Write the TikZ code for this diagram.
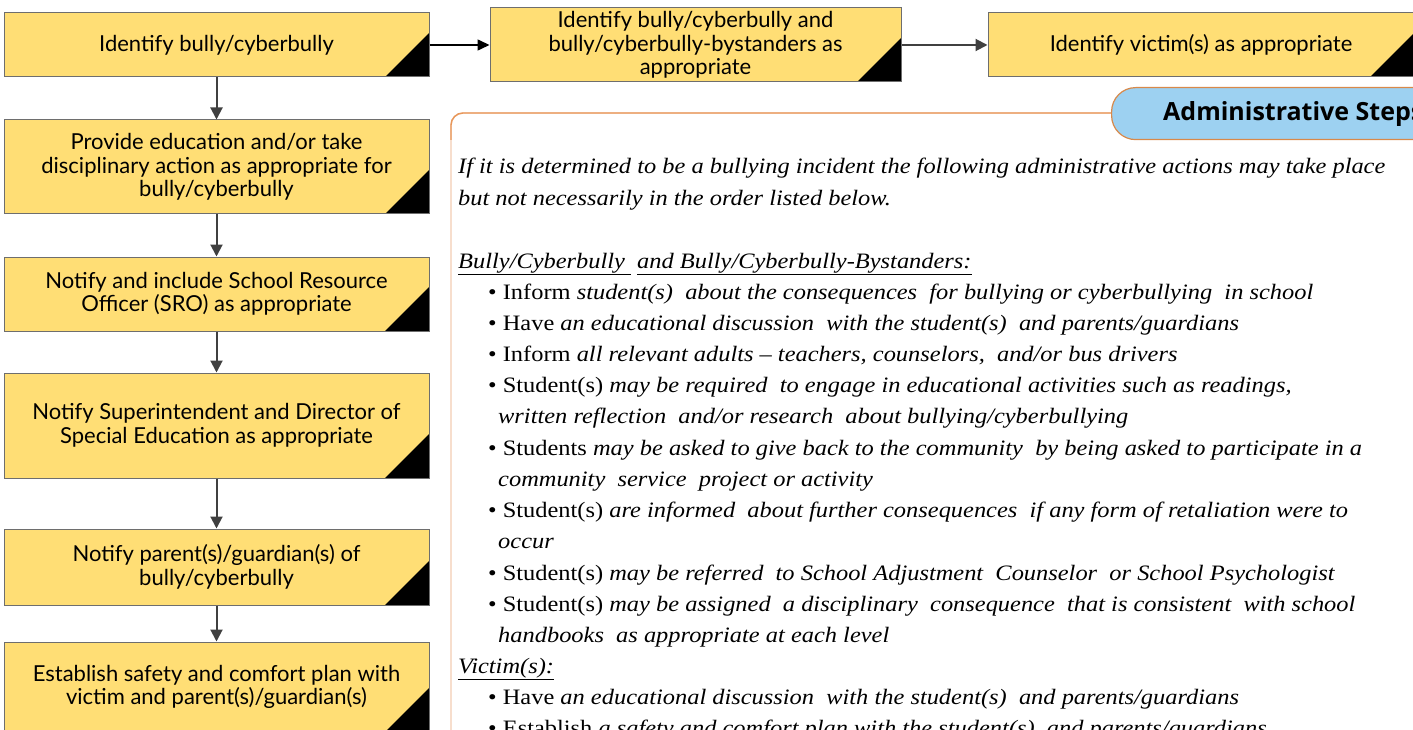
\documentclass[tikz,border=0pt]{standalone}
\usepackage{fontspec}
\setmainfont{Liberation Serif}[FakeStretch=1.11]
\newfontfamily\boxfont{Lato}
\newfontfamily\headfont{Open Sans}
\usetikzlibrary{arrows.meta}
\definecolor{boxyellow}{HTML}{FFDE75}
\definecolor{boxborder}{HTML}{6E6E6E}
\definecolor{arrowgrey}{HTML}{404040}
\definecolor{orangeline}{HTML}{E8975A}
\definecolor{peachline}{HTML}{F3CDB2}
\definecolor{pillblue}{HTML}{9DD1F1}
\definecolor{pillborder}{HTML}{D8894A}
\tikzset{
  stepbox/.style={draw=boxborder, line width=1pt, fill=boxyellow,
    font=\boxfont\fontsize{22}{23.5}\selectfont, align=center, inner sep=0pt,
    path picture={\fill[black] (path picture bounding box.south east) -- ++(-44pt,0pt) -- ++(44pt,44pt) -- cycle;}},
  arr/.style={draw=arrowgrey, line width=2pt, -{Triangle[length=12pt,width=12pt]}},
  arrblack/.style={draw=black, line width=1.6pt, -{Triangle[length=12pt,width=11pt]}},
  txt/.style={anchor=base west, inner sep=0pt, font=\fontsize{22}{26}\selectfont},
  pill/.style={draw=pillborder, line width=1.2pt, fill=pillblue, rounded corners=24pt, inner sep=0pt}
}
\begin{document}
\begin{tikzpicture}[x=1pt,y=-1pt]
\useasboundingbox (0,0) rectangle (1413,730);
\clip (0,0) rectangle (1413,730);
% admin frame
\draw[peachline, line width=1.4pt, rounded corners=12pt] (451,800) -- (451,113) -- (1460,113);
\draw[orangeline, line width=1.4pt, rounded corners=12pt] (451,140) -- (451,113) -- (1460,113);
\node[pill, anchor=north west, minimum width=360pt, minimum height=52pt] (head) at (1111,87) {};
\node[anchor=base west, inner sep=0pt, font=\headfont\bfseries\fontsize{25}{29}\selectfont] (headtxt) at (1163,121) {Administrative Steps};
% flow boxes
\node[stepbox, minimum width=425pt, minimum height=64pt] (b1) at (216.5,45) {Identify bully/cyberbully};
\node[stepbox, minimum width=425pt, minimum height=94pt] (b2) at (216.5,167) {Provide education and/or take\\disciplinary action as appropriate for\\bully/cyberbully};
\node[stepbox, minimum width=425pt, minimum height=74pt] (b3) at (216.5,294) {Notify and include School Resource\\Officer (SRO) as appropriate};
\node[stepbox, minimum width=425pt, minimum height=105pt] (b4) at (216.5,425.5) {Notify Superintendent and Director of\\Special Education as appropriate};
\node[stepbox, minimum width=425pt, minimum height=76pt] (b5) at (216.5,567) {Notify parent(s)/guardian(s) of\\bully/cyberbully};
\node[stepbox, minimum width=425pt, minimum height=90pt] (b6) at (216.5,687) {Establish safety and comfort plan with\\victim and parent(s)/guardian(s)};
\node[stepbox, minimum width=411pt, minimum height=74pt] (bB) at (695.5,45) {Identify bully/cyberbully and\\bully/cyberbully-bystanders as\\appropriate};
\node[stepbox, minimum width=426pt, minimum height=64pt] (bC) at (1201,45) {Identify victim(s) as appropriate};
% arrows
\draw[arrblack] (b1.east) -- (bB.west);
\draw[arr] (bB.east) -- (bC.west);
\draw[arr] (b1.south) -- (b2.north);
\draw[arr] (b2.south) -- (b3.north);
\draw[arr] (b3.south) -- (b4.north);
\draw[arr] (b4.south) -- (b5.north);
\draw[arr] (b5.south) -- (b6.north);
% text
\node[txt] (t1) at (458,174) {\textit{If it is determined to be a bullying incident the following administrative actions may take place}};
\node[txt] (t2) at (458,205) {\textit{but not necessarily in the order listed below.}};
\node[txt] (t3) at (458,268) {\textit{\underline{Bully/Cyberbully\ }\ \underline{and Bully/Cyberbully-Bystanders:}}};
\node[txt] (t4) at (488,299) {• Inform \textit{student(s)\ \ about the consequences\ \ for bullying or cyberbullying\ \ in school}};
\node[txt] (t5) at (488,330) {• Have \textit{an educational discussion\ \ with the student(s)\ \ and parents/guardians}};
\node[txt] (t6) at (488,361) {• Inform \textit{all relevant adults – teachers, counselors,\ \ and/or bus drivers}};
\node[txt] (t7) at (488,392) {• Student(s) \textit{may be required\ \ to engage in educational activities such as readings,}};
\node[txt] (t8) at (498,423) {\textit{written reflection\ \ and/or research\ \ about bullying/cyberbullying}};
\node[txt] (t9) at (488,455) {• Students \textit{may be asked to give back to the community\ \ by being asked to participate in a}};
\node[txt] (t10) at (498,486) {\textit{community\ \ service\ \ project or activity}};
\node[txt] (t11) at (488,517) {• Student(s) \textit{are informed\ \ about further consequences\ \ if any form of retaliation were to}};
\node[txt] (t12) at (498,548) {\textit{occur}};
\node[txt] (t13) at (488,580) {• Student(s) \textit{may be referred\ \ to School Adjustment\ \ Counselor\ \ or School Psychologist}};
\node[txt] (t14) at (488,611) {• Student(s) \textit{may be assigned\ \ a disciplinary\ \ consequence\ \ that is consistent\ \ with school}};
\node[txt] (t15) at (498,642) {\textit{handbooks\ \ as appropriate at each level}};
\node[txt] (t16) at (458,673) {\textit{\underline{Victim(s):}}};
\node[txt] (t17) at (488,704) {• Have \textit{an educational discussion\ \ with the student(s)\ \ and parents/guardians}};
\node[txt] (t18) at (488,735) {• Establish \textit{a safety and comfort plan with the student(s)\ \ and parents/guardians}};
\end{tikzpicture}
\end{document}
